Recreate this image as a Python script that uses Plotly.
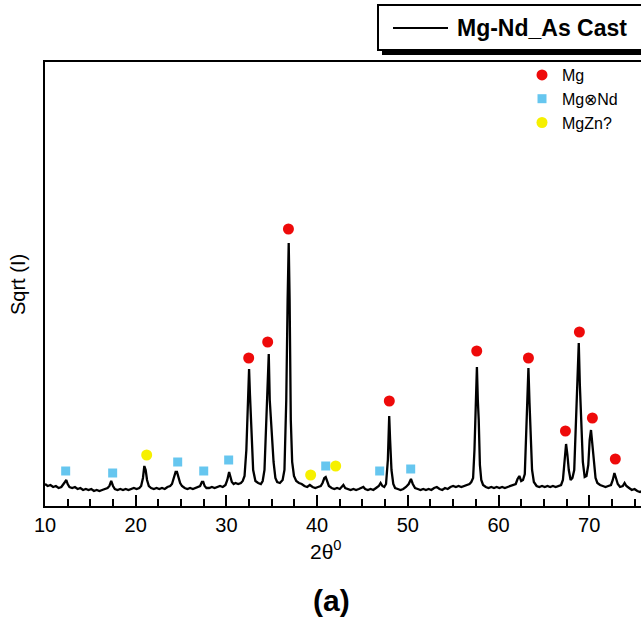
import plotly.graph_objects as go

# ---- XRD trace (2theta, intensity in arbitrary units) ----
two_theta = [10.0, 10.3, 10.6, 10.9, 11.2, 11.5, 11.8, 12.0, 12.2, 12.35, 12.5, 12.7, 13.0, 13.3, 13.6, 13.9,
             14.2, 14.5, 14.8, 15.1, 15.4, 15.7, 16.0, 16.3, 16.6, 16.9, 17.1, 17.3, 17.5, 17.7, 18.0, 18.3,
             18.6, 18.9, 19.2, 19.5, 19.8, 20.1, 20.4, 20.6, 20.8, 20.95, 21.1, 21.25, 21.45, 21.7, 22.0, 22.3,
             22.6, 22.9, 23.2, 23.5, 23.8, 24.0, 24.2, 24.4, 24.55, 24.7, 24.9, 25.1, 25.4, 25.7, 26.0, 26.3,
             26.6, 26.9, 27.1, 27.3, 27.45, 27.6, 27.8, 28.1, 28.4, 28.7, 29.0, 29.3, 29.6, 29.9, 30.1, 30.3,
             30.45, 30.6, 30.8, 31.0, 31.3, 31.6, 31.8, 32.0, 32.2, 32.35, 32.5, 32.6, 32.7, 32.8, 32.95, 33.2,
             33.5, 33.8, 34.0, 34.2, 34.4, 34.55, 34.67, 34.78, 34.9, 35.05, 35.2, 35.4, 35.6, 35.9, 36.2, 36.4,
             36.6, 36.75, 36.87, 36.97, 37.1, 37.25, 37.45, 37.7, 38.0, 38.3, 38.6, 38.9, 39.2, 39.5, 39.8, 40.1,
             40.4, 40.6, 40.8, 40.95, 41.1, 41.3, 41.6, 41.9, 42.2, 42.5, 42.7, 42.9, 43.1, 43.4, 43.7, 44.0,
             44.3, 44.6, 44.9, 45.1, 45.3, 45.6, 45.9, 46.2, 46.5, 46.8, 47.0, 47.2, 47.4, 47.6, 47.8, 47.95,
             48.05, 48.2, 48.4, 48.6, 48.9, 49.2, 49.5, 49.8, 50.1, 50.35, 50.55, 50.8, 51.1, 51.4, 51.7, 52.0,
             52.3, 52.6, 52.9, 53.2, 53.5, 53.8, 54.1, 54.4, 54.7, 55.0, 55.3, 55.6, 55.9, 56.2, 56.5, 56.8,
             57.0, 57.2, 57.35, 57.5, 57.62, 57.72, 57.82, 57.95, 58.1, 58.3, 58.6, 58.9, 59.2, 59.5, 59.8, 60.1,
             60.4, 60.7, 61.0, 61.3, 61.6, 61.9, 62.1, 62.3, 62.5, 62.7, 62.9, 63.05, 63.2, 63.3, 63.42, 63.55,
             63.7, 63.9, 64.2, 64.5, 64.8, 65.1, 65.4, 65.7, 66.0, 66.3, 66.6, 66.9, 67.1, 67.3, 67.45, 67.6,
             67.75, 67.95, 68.15, 68.35, 68.55, 68.7, 68.85, 68.97, 69.1, 69.3, 69.5, 69.7, 69.9, 70.05, 70.2, 70.35,
             70.5, 70.7, 70.9, 71.2, 71.5, 71.8, 72.1, 72.4, 72.6, 72.78, 72.95, 73.15, 73.4, 73.7, 73.9, 74.1,
             74.4, 74.7, 75.0, 75.3, 75.6, 75.8]
intensity = [22, 20, 21, 19, 20, 18, 19, 21, 24, 26, 22, 19, 18, 19, 17, 18,
             16, 17, 16, 17, 15, 16, 15, 16, 17, 18, 20, 25, 20, 17, 16, 17,
             16, 17, 16, 17, 18, 17, 18, 20, 28, 40, 36, 26, 20, 18, 17, 18,
             17, 18, 17, 19, 20, 22, 27, 34, 34, 29, 23, 20, 18, 17, 18, 17,
             18, 19, 20, 24, 24, 20, 18, 18, 19, 18, 19, 20, 19, 21, 26, 34,
             29, 24, 22, 23, 22, 23, 25, 30, 56, 106, 137, 111, 86, 66, 36, 25,
             23, 22, 25, 36, 86, 136, 152, 106, 86, 61, 44, 28, 24, 23, 26, 36,
             106, 206, 263, 206, 86, 44, 30, 25, 23, 22, 20, 19, 21, 19, 18, 19,
             20, 23, 28, 29, 25, 20, 18, 17, 18, 17, 19, 21, 18, 17, 16, 17,
             16, 17, 18, 19, 17, 16, 17, 16, 18, 20, 23, 20, 19, 22, 46, 90,
             66, 36, 22, 18, 17, 16, 17, 19, 22, 27, 22, 18, 17, 16, 17, 16,
             17, 16, 18, 19, 17, 16, 18, 17, 19, 20, 19, 20, 19, 20, 21, 22,
             24, 28, 56, 106, 139, 106, 86, 41, 26, 21, 19, 18, 19, 18, 19, 18,
             19, 18, 19, 20, 21, 22, 27, 30, 25, 26, 32, 66, 116, 138, 103, 66,
             36, 24, 20, 19, 20, 19, 20, 19, 20, 19, 20, 21, 26, 46, 62, 51,
             36, 26, 28, 36, 86, 136, 163, 121, 86, 44, 29, 30, 41, 66, 76, 61,
             41, 28, 23, 21, 20, 19, 20, 21, 26, 33, 28, 22, 19, 20, 23, 20,
             18, 16, 17, 15, 14, 15]

# ---- phase markers ----
mg_x = [32.46, 34.55, 36.84, 47.96, 57.6, 63.3, 67.38, 68.92, 70.35, 72.88]
mg_y = [148, 164, 277, 105, 155, 148, 75, 174, 88, 47]
mgnd_x = [12.28, 17.46, 24.63, 27.5, 30.25, 40.95, 46.9, 50.32]
mgnd_y = [35, 33, 44, 35, 46, 40, 35, 37]
mgzn_x = [21.21, 39.29, 42.05]
mgzn_y = [51, 31, 40]

x_ticks = [10, 20, 30, 40, 50, 60, 70]
series_name = "Mg-Nd_As Cast"
phase_names = ["Mg", "Mg\u2297Nd", "MgZn?"]

W, H = 641, 618
L, R, T, B = 45, 0, 62, 112
pw, ph = W - L - R, H - T - B


def px(xp):  # pixel -> paper x
    return (xp - L) / pw


def py(yp):  # pixel -> paper y
    return (H - B - yp) / ph


FONT = "Arial, Liberation Sans, sans-serif"

fig = go.Figure()
fig.add_trace(go.Scatter(x=two_theta, y=intensity, mode="lines", name=series_name,
                         line=dict(color="black", width=2.3), showlegend=False))
fig.add_trace(go.Scatter(x=mg_x, y=mg_y, mode="markers", name=phase_names[0],
                         marker=dict(symbol="circle", size=11, color="#ee0a0a")))
fig.add_trace(go.Scatter(x=mgnd_x, y=mgnd_y, mode="markers", name=phase_names[1],
                         marker=dict(symbol="square", size=9, color="#66c6ef")))
fig.add_trace(go.Scatter(x=mgzn_x, y=mgzn_y, mode="markers", name=phase_names[2],
                         marker=dict(symbol="circle", size=11, color="#f6f000")))

# manual boxed series legend with drop shadow
shapes = [
    dict(type="rect", xref="paper", yref="paper", x0=px(382), x1=px(650), y0=py(55), y1=py(9),
         fillcolor="black", line=dict(width=0), layer="above"),
    dict(type="rect", xref="paper", yref="paper", x0=px(378), x1=px(646), y0=py(50), y1=py(5),
         fillcolor="white", line=dict(color="black", width=2), layer="above"),
    dict(type="line", xref="paper", yref="paper", x0=px(393), x1=px(448), y0=py(28), y1=py(28),
         line=dict(color="black", width=2), layer="above"),
]

annotations = [
    dict(text="<b>" + series_name + "</b>", xref="paper", yref="paper", x=px(455), y=py(28),
         xanchor="left", yanchor="middle", showarrow=False, font=dict(family=FONT, size=23, color="black")),
    dict(text="Sqrt (I)", xref="paper", yref="paper", x=px(18), y=py(285), textangle=-90,
         xanchor="center", yanchor="middle", showarrow=False, font=dict(family=FONT, size=20, color="black")),
    dict(text="2\u03b8<sup>0</sup>", xref="paper", yref="paper", x=px(326), y=py(550),
         xanchor="center", yanchor="middle", showarrow=False, font=dict(family=FONT, size=21, color="black")),
    dict(text="<b>(a)</b>", xref="paper", yref="paper", x=px(331), y=py(600),
         xanchor="center", yanchor="middle", showarrow=False, font=dict(family=FONT, size=30, color="black")),
]

fig.update_layout(
    width=W, height=H, margin=dict(l=L, r=R, t=T, b=B),
    paper_bgcolor="white", plot_bgcolor="white",
    font=dict(family=FONT, color="black"),
    shapes=shapes, annotations=annotations,
    showlegend=True,
    legend=dict(x=px(522), y=py(58), xanchor="left", yanchor="top", bgcolor="rgba(0,0,0,0)",
                font=dict(family=FONT, size=16, color="black"), tracegroupgap=0, itemwidth=30),
    xaxis=dict(range=[10, 10 + pw / 9.07], tickvals=x_ticks, ticks="inside", ticklen=11, tickwidth=1.5,
               tickcolor="black", showline=True, linecolor="black", linewidth=2, mirror=True,
               showgrid=False, zeroline=False, tickfont=dict(family=FONT, size=20, color="black"),
               minor=dict(dtick=2.5, ticks="inside", ticklen=7, tickwidth=1.5, tickcolor="black", showgrid=False)),
    yaxis=dict(range=[0, ph], showticklabels=False, ticks="", showline=True, linecolor="black",
               linewidth=2, showgrid=False, zeroline=False),
)

fig.write_html("out.html")
